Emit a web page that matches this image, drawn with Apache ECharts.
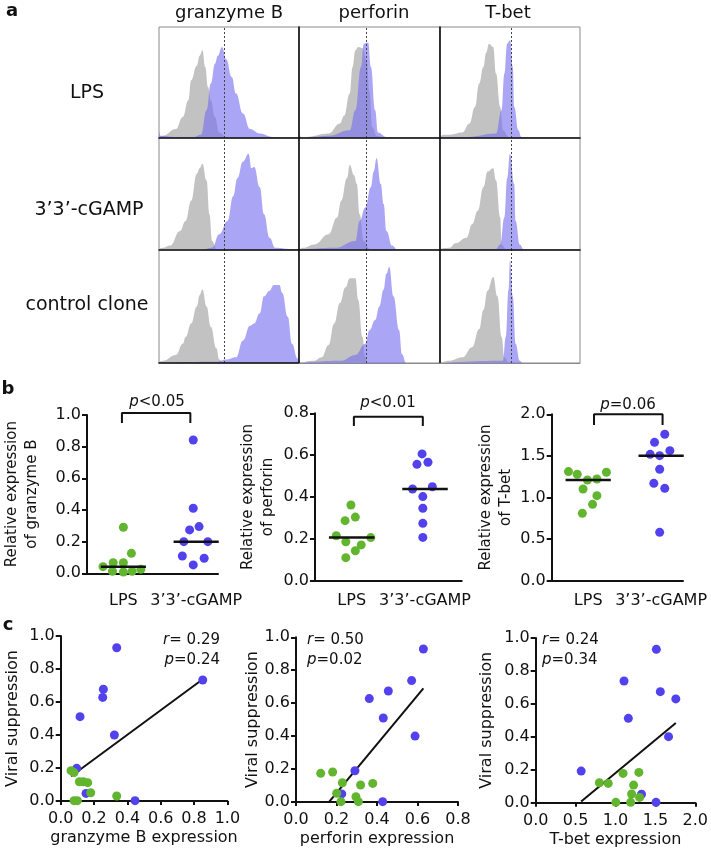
<!DOCTYPE html>
<html><head><meta charset="utf-8">
<script src="https://cdn.jsdelivr.net/npm/echarts@6/dist/echarts.min.js"></script>
<style>html,body{margin:0;padding:0;background:#fff}#c{width:711px;height:850px}</style>
</head><body><div id="c"></div>
<script>
// ---------------- DATA ----------------
// Panel a: flow histograms, [fluorescence %, count % of max]
const COL_TITLES = ['granzyme B', 'perforin', 'T-bet'];
const ROW_LABELS = ['LPS', '3’3’-cGAMP', 'control clone'];
const GATES = [46.4, 47.5, 50.7];

const GZ_LPS_ISO = [[0,1],[3,2],[12,8],[17,19],[21,34],[23,52],[27,65],[29,74],[31,79],[33,64],[35,46],[37,34],[40,19],[43,5],[48,1],[55,0],[100,0]];
const GZ_LPS_STN = [[0,7],[1,2],[10,1],[25,1],[30,3],[34,25],[37,49],[40,67],[42,74],[45,82],[48,71],[52,55],[55,40],[60,22],[65,8],[72,4],[81,1],[90,0],[100,0]];
const PF_LPS_ISO = [[0,0],[5,1],[21,4],[29,13],[32,20],[36,40],[38,64],[40,79],[42,82],[45,81],[48,70],[50,42],[52,10],[55,2],[60,0],[100,0]];
const PF_LPS_STN = [[0,5],[2,0],[10,1],[21,2],[36,7],[40,25],[44,64],[46,85],[49,86],[51,64],[54,25],[56,5],[62,1],[70,0],[100,0]];
const TB_LPS_ISO = [[0,0],[2,3],[7,3],[16,5],[21,13],[25,28],[28,49],[31,64],[33,77],[35,85],[38,82],[40,58],[43,28],[45,7],[49,1],[55,0],[100,0]];
const TB_LPS_STN = [[0,4],[1,1],[20,1],[40,4],[44,25],[46,58],[48,85],[50,88],[52,64],[53,28],[56,7],[58,1],[65,0],[100,0]];

const GZ_CG_ISO = [[0,1],[3,2],[8,4],[15,17],[19,26],[23,44],[27,68],[29,73],[31,77],[34,62],[36,32],[38,8],[41,1],[45,0],[100,0]];
const GZ_CG_STN = [[0,0],[30,0],[38,2],[43,14],[49,26],[53,48],[56,64],[60,79],[64,86],[66,73],[68,74],[72,56],[75,32],[79,11],[83,2],[93,1],[100,0]];
const PF_CG_ISO = [[0,0],[3,2],[11,5],[21,14],[27,29],[30,44],[34,64],[36,76],[39,67],[41,59],[43,32],[46,8],[50,1],[55,0],[100,0]];
const PF_CG_STN = [[0,0],[26,2],[40,8],[43,26],[47,38],[51,56],[53,70],[55,82],[58,59],[60,41],[62,17],[66,4],[70,0],[100,0]];
const TB_CG_ISO = [[0,1],[7,2],[11,6],[19,11],[23,23],[27,35],[31,56],[34,70],[38,73],[40,62],[43,29],[44,5],[47,1],[52,0],[100,0]];
const TB_CG_STN = [[0,0],[40,1],[43,5],[46,29],[48,64],[50,86],[53,59],[54,26],[57,5],[60,0],[100,0]];

const GZ_CC_ISO = [[0,1],[3,2],[12,7],[17,17],[19,23],[23,35],[27,50],[29,60],[31,65],[34,50],[37,32],[41,13],[43,3],[46,0],[100,0]];
const GZ_CC_STN = [[0,0],[41,1],[48,3],[55,5],[60,20],[65,33],[68,35],[72,44],[75,59],[79,64],[82,69],[86,69],[88,62],[92,41],[95,17],[99,4],[100,3]];
const PF_CC_ISO = [[0,0],[11,2],[16,5],[21,16],[25,35],[29,53],[33,67],[36,75],[40,75],[42,56],[45,23],[47,5],[49,0],[100,0]];
const PF_CC_STN = [[0,0],[30,2],[40,7],[47,17],[50,29],[54,38],[57,50],[60,65],[62,79],[64,85],[67,59],[71,29],[73,8],[76,0],[100,0]];
const TB_CC_ISO = [[0,0],[7,2],[16,5],[23,14],[28,30],[31,47],[34,64],[38,76],[41,59],[44,23],[46,5],[49,0],[100,0]];
const TB_CC_STN = [[0,0],[45,2],[47,23],[49,65],[50,91],[52,59],[54,17],[57,2],[59,0],[100,0]];

// Panel b: relative expression per clone
const CATS = ['LPS', '3’3’-cGAMP'];
const GZ_REL_LPS = [0.291, 0.126, 0.067, 0.067, 0.042, 0.025, 0.013, 0.013, 0.008];
const GZ_REL_CG  = [0.842, 0.411, 0.295, 0.274, 0.200, 0.200, 0.109, 0.095, 0.053];
const PF_REL_LPS = [0.362, 0.304, 0.287, 0.215, 0.206, 0.186, 0.171, 0.143, 0.110];
const PF_REL_CG  = [0.606, 0.566, 0.556, 0.449, 0.438, 0.402, 0.346, 0.274, 0.207];
const TB_REL_LPS = [1.311, 1.303, 1.279, 1.222, 1.210, 1.102, 1.022, 0.918, 0.810];
const TB_REL_CG  = [1.760, 1.663, 1.563, 1.519, 1.503, 1.339, 1.170, 1.110, 0.581];
const P_TEXT_B = ['<0.05', '<0.01', '=0.06'];

// Panel c: expression vs viral suppression
const C1_CG_X = [0.336,0.256,0.252,0.116,0.322,0.096,0.152,0.446,0.852];
const C1_CG_Y = [0.929,0.677,0.628,0.511,0.400,0.198,0.046,0.002,0.733];
const C1_LPS_X = [0.062,0.080,0.112,0.136,0.162,0.180,0.080,0.100,0.336];
const C1_LPS_Y = [0.184,0.172,0.117,0.117,0.111,0.050,0.002,0.002,0.030];
const C2_CG_X = [0.629,0.571,0.456,0.362,0.431,0.588,0.291,0.226,0.428];
const C2_CG_Y = [0.929,0.737,0.674,0.628,0.510,0.400,0.190,0.049,0.002];
const C2_LPS_X = [0.122,0.181,0.229,0.201,0.222,0.296,0.308,0.319,0.379];
const C2_LPS_Y = [0.174,0.182,0.117,0.053,0.002,0.032,0.002,0.103,0.113];
const C3_CG_X = [1.512,1.107,1.562,1.756,1.161,1.665,0.570,1.326,1.508];
const C3_CG_Y = [0.931,0.739,0.674,0.630,0.512,0.401,0.192,0.051,0.002];
const C3_LPS_X = [0.798,0.909,1.095,1.293,1.227,1.202,1.302,1.004,1.190];
const C3_LPS_Y = [0.121,0.117,0.178,0.184,0.107,0.053,0.032,0.002,0.002];
const R_TEXT = ['0.29', '0.50', '0.24'];
const P_TEXT_C = ['0.24', '0.02', '0.34'];

// ---------------- LAYOUT / STYLE ----------------
const FONT = 'DejaVu Sans';
const INK = '#111';
const GREEN = '#62b52e';
const BLUE = '#5142ee';
const ISO_FILL = '#c2c2c2';
const STN_FILL = 'rgba(120,110,240,0.62)';

// horizontal jitter of dots in the dot plots (layout only)
const JIT = {
  gzL: [0, 0.11, -0.14, 0, -0.28, 0.24, -0.15, 0.12, 0],
  gzC: [-0.04, -0.04, 0.04, -0.09, -0.17, 0.16, -0.19, 0.11, -0.04],
  pfL: [-0.01, 0.05, -0.09, -0.21, 0.26, -0.08, 0.13, 0.05, -0.08],
  pfC: [-0.04, 0.04, -0.11, 0.10, -0.17, -0.03, -0.03, -0.03, -0.03],
  tbL: [-0.27, 0.25, -0.15, 0.12, -0.01, -0.07, 0.12, 0.06, -0.08],
  tbC: [0.05, -0.09, 0.12, -0.15, -0.02, -0.02, -0.10, 0.05, -0.02]
};

const grids = [], xAxes = [], yAxes = [], series = [], graphics = [];

function txt(x, y, text, size, extra) {
  const st = Object.assign({
    text: text, fontSize: size, fontFamily: FONT, fill: INK,
    align: 'center', verticalAlign: 'middle', textAlign: 'center', textVerticalAlign: 'middle'
  }, extra || {});
  return { type: 'text', x: x, y: y, silent: true, z: 100, style: st };
}
function italicRich(size) {
  return { i: { fontStyle: 'italic', fontSize: size, fontFamily: FONT, fill: INK } };
}

// ---------- Panel a ----------
const HIST = [
  [[GZ_LPS_ISO, GZ_LPS_STN], [PF_LPS_ISO, PF_LPS_STN], [TB_LPS_ISO, TB_LPS_STN]],
  [[GZ_CG_ISO, GZ_CG_STN], [PF_CG_ISO, PF_CG_STN], [TB_CG_ISO, TB_CG_STN]],
  [[GZ_CC_ISO, GZ_CC_STN], [PF_CC_ISO, PF_CC_STN], [TB_CC_ISO, TB_CC_STN]]
];
const COL_X = [159, 299, 440], COL_W = [140, 141, 140];
const ROW_Y = [27, 138, 250], ROW_H = [111, 112, 113];
for (let r = 0; r < 3; r++) {
  for (let c = 0; c < 3; c++) {
    const gi = grids.length;
    grids.push({ left: COL_X[c], top: ROW_Y[r], width: COL_W[c], height: ROW_H[r],
      show: true, borderColor: '#8a8a8a', borderWidth: 1, backgroundColor: '#fff' });
    const bottomBlack = r < 2 || c === 0;
    xAxes.push({ gridIndex: gi, type: 'value', min: 0, max: 100, z: 10,
      axisLine: { show: true, onZero: false, lineStyle: { color: bottomBlack ? INK : '#8a8a8a', width: bottomBlack ? 1.6 : 1 } },
      axisTick: { show: false }, axisLabel: { show: false }, splitLine: { show: false } });
    yAxes.push({ gridIndex: gi, type: 'value', min: 0, max: 100, z: 10,
      axisLine: { show: c > 0, onZero: false, lineStyle: { color: INK, width: 1.6 } },
      axisTick: { show: false }, axisLabel: { show: false }, splitLine: { show: false } });
    const [iso, stn] = HIST[r][c];
    series.push({ type: 'line', xAxisIndex: gi, yAxisIndex: gi, data: iso, smooth: 0.45, smoothMonotone: 'x',
      showSymbol: false, silent: true, z: 2, lineStyle: { width: 0 }, areaStyle: { color: ISO_FILL, opacity: 1 } });
    series.push({ type: 'line', xAxisIndex: gi, yAxisIndex: gi, data: stn, smooth: 0.45, smoothMonotone: 'x',
      showSymbol: false, silent: true, z: 3, lineStyle: { width: 0 }, areaStyle: { color: STN_FILL, opacity: 1 },
      markLine: { silent: true, symbol: ['none', 'none'], label: { show: false },
        lineStyle: { type: [2, 2], color: '#444', width: 1 }, data: [{ xAxis: GATES[c] }] } });
  }
}
graphics.push(txt(12, 11, 'a', 18, { fontWeight: 'bold' }));
[229, 374, 508].forEach((x, i) => graphics.push(txt(x, 13, COL_TITLES[i], 18)));
[[87, 93], [89, 210], [87, 305]].forEach((p, i) => graphics.push(txt(p[0], p[1], ROW_LABELS[i], 19)));

// ---------- Panel b ----------
function median(a) { const s = a.slice().sort((p, q) => p - q); const n = s.length; return n % 2 ? s[(n - 1) / 2] : (s[n / 2 - 1] + s[n / 2]) / 2; }
const B_PANELS = [
  { lps: GZ_REL_LPS, cg: GZ_REL_CG, jl: JIT.gzL, jc: JIT.gzC, name: 'Relative expression\nof granzyme B',
    box: { left: 87, top: 415, width: 131, height: 158.3 }, xMin: 0.5, xMax: 2.3, yMax: 1.0, yInt: 0.2,
    nameGap: 45, catMargin: 20, br: { x: [0.98, 1.92], y: [0.95, 1.013] }, pPos: [157, 402] },
  { lps: PF_REL_LPS, cg: PF_REL_CG, jl: JIT.pfL, jc: JIT.pfC, name: 'Relative expression\nof perforin',
    box: { left: 315, top: 413.3, width: 146.7, height: 167.4 }, xMin: 0.5, xMax: 2.5, yMax: 0.8, yInt: 0.2,
    nameGap: 37, catMargin: 12, br: { x: [1.03, 1.97], y: [0.739, 0.784] }, pPos: [388, 403] },
  { lps: TB_REL_LPS, cg: TB_REL_CG, jl: JIT.tbL, jc: JIT.tbC, name: 'Relative expression\nof T-bet',
    box: { left: 551.7, top: 414.3, width: 131.3, height: 166.4 }, xMin: 0.5, xMax: 2.3, yMax: 2.0, yInt: 0.5,
    nameGap: 35, catMargin: 12, br: { x: [1.08, 2.02], y: [1.87, 2.0] }, pPos: [628, 405] }
];
B_PANELS.forEach((p, k) => {
  const gi = grids.length;
  grids.push(Object.assign({ show: false }, p.box));
  xAxes.push({ gridIndex: gi, type: 'value', min: p.xMin, max: p.xMax,
    axisLine: { show: true, onZero: false, lineStyle: { color: INK, width: 2 } },
    axisTick: { show: false }, splitLine: { show: false },
    axisLabel: { customValues: [1, 2], formatter: v => CATS[Math.round(v) - 1], fontFamily: FONT, fontSize: 16, color: INK, margin: p.catMargin } });
  yAxes.push({ gridIndex: gi, type: 'value', min: 0, max: p.yMax, interval: p.yInt,
    name: p.name, nameLocation: 'middle', nameRotate: 90, nameGap: p.nameGap,
    nameTextStyle: { fontFamily: FONT, fontSize: 15, color: INK, lineHeight: 20, align: 'center' },
    axisLine: { show: true, onZero: false, lineStyle: { color: INK, width: 2 } },
    axisTick: { show: true, length: 5, lineStyle: { color: INK, width: 2 } },
    axisLabel: { fontFamily: FONT, fontSize: 16, color: INK, margin: 6, formatter: v => v.toFixed(1) },
    splitLine: { show: false } });
  series.push({ type: 'scatter', xAxisIndex: gi, yAxisIndex: gi, symbolSize: 9, z: 5,
    itemStyle: { color: GREEN, opacity: 1 }, data: p.lps.map((v, i) => [1 + p.jl[i], v]) });
  series.push({ type: 'scatter', xAxisIndex: gi, yAxisIndex: gi, symbolSize: 9, z: 5,
    itemStyle: { color: BLUE, opacity: 1 }, data: p.cg.map((v, i) => [2 + p.jc[i], v]) });
  [[1, median(p.lps)], [2, median(p.cg)]].forEach(([cx, m]) => {
    series.push({ type: 'line', xAxisIndex: gi, yAxisIndex: gi, showSymbol: false, silent: true, z: 6,
      lineStyle: { color: INK, width: 2.5 }, data: [[cx - 0.31, m], [cx + 0.31, m]] });
  });
  series.push({ type: 'line', xAxisIndex: gi, yAxisIndex: gi, showSymbol: false, silent: true, z: 6, clip: false,
    lineStyle: { color: INK, width: 2 },
    data: [[p.br.x[0], p.br.y[0]], [p.br.x[0], p.br.y[1]], [p.br.x[1], p.br.y[1]], [p.br.x[1], p.br.y[0]]] });
  graphics.push(txt(p.pPos[0], p.pPos[1], '{i|p}' + P_TEXT_B[k], 15, { rich: italicRich(15) }));
});
graphics.push(txt(8, 389, 'b', 18, { fontWeight: 'bold' }));

// ---------- Panel c ----------
function ols(xs, ys) {
  const n = xs.length; const mx = xs.reduce((a, b) => a + b, 0) / n; const my = ys.reduce((a, b) => a + b, 0) / n;
  let sxy = 0, sxx = 0;
  for (let i = 0; i < n; i++) { sxy += (xs[i] - mx) * (ys[i] - my); sxx += (xs[i] - mx) * (xs[i] - mx); }
  const b = sxy / sxx; return { a: my - b * mx, b: b };
}
const C_PANELS = [
  { cx: C1_CG_X, cy: C1_CG_Y, lx: C1_LPS_X, ly: C1_LPS_Y, name: 'granzyme B expression',
    box: { left: 60.7, top: 636, width: 166.7, height: 165 }, xMax: 1.0, xInt: 0.2, yGap: 40,
    stat: { x: 220, align: 'right' } },
  { cx: C2_CG_X, cy: C2_CG_Y, lx: C2_LPS_X, ly: C2_LPS_Y, name: 'perforin expression',
    box: { left: 296, top: 637.3, width: 162, height: 164.7 }, xMax: 0.8, xInt: 0.2, yGap: 35,
    stat: { x: 307, align: 'left' } },
  { cx: C3_CG_X, cy: C3_CG_Y, lx: C3_LPS_X, ly: C3_LPS_Y, name: 'T-bet expression',
    box: { left: 535.7, top: 638, width: 161.3, height: 164.7 }, xMax: 2.0, xInt: 0.5, yGap: 41,
    stat: { x: 542, align: 'left' } }
];
C_PANELS.forEach((p, k) => {
  const gi = grids.length;
  grids.push(Object.assign({ show: false }, p.box));
  xAxes.push({ gridIndex: gi, type: 'value', min: 0, max: p.xMax, interval: p.xInt,
    name: p.name, nameLocation: 'middle', nameGap: 29,
    nameTextStyle: { fontFamily: FONT, fontSize: 16, color: INK },
    axisLine: { show: true, onZero: false, lineStyle: { color: INK, width: 2 } },
    axisTick: { show: true, length: 4, lineStyle: { color: INK, width: 2 } },
    axisLabel: { fontFamily: FONT, fontSize: 16, color: INK, margin: 10, formatter: v => v.toFixed(1) },
    splitLine: { show: false } });
  yAxes.push({ gridIndex: gi, type: 'value', min: 0, max: 1, interval: 0.2,
    name: 'Viral suppression', nameLocation: 'middle', nameRotate: 90, nameGap: p.yGap,
    nameTextStyle: { fontFamily: FONT, fontSize: 16, color: INK },
    axisLine: { show: true, onZero: false, lineStyle: { color: INK, width: 2 } },
    axisTick: { show: true, length: 5, lineStyle: { color: INK, width: 2 } },
    axisLabel: { fontFamily: FONT, fontSize: 16, color: INK, margin: 6, formatter: v => v.toFixed(1) },
    splitLine: { show: false } });
  const allX = p.cx.concat(p.lx), allY = p.cy.concat(p.ly);
  const fit = ols(allX, allY);
  const x0 = Math.min.apply(null, allX), x1 = Math.max.apply(null, allX);
  series.push({ type: 'line', xAxisIndex: gi, yAxisIndex: gi, showSymbol: false, silent: true, z: 3, clip: true,
    lineStyle: { color: INK, width: 2 }, data: [[x0, fit.a + fit.b * x0], [x1, fit.a + fit.b * x1]] });
  series.push({ type: 'scatter', xAxisIndex: gi, yAxisIndex: gi, symbolSize: 9, z: 5,
    itemStyle: { color: BLUE, opacity: 1 }, data: p.cx.map((v, i) => [v, p.cy[i]]) });
  series.push({ type: 'scatter', xAxisIndex: gi, yAxisIndex: gi, symbolSize: 9, z: 6,
    itemStyle: { color: GREEN, opacity: 1 }, data: p.lx.map((v, i) => [v, p.ly[i]]) });
  const al = { align: p.stat.align, textAlign: p.stat.align, rich: italicRich(15) };
  graphics.push(txt(p.stat.x, 640, '{i|r}= ' + R_TEXT[k], 15, al));
  graphics.push(txt(p.stat.x, 660, '{i|p}=' + P_TEXT_C[k], 15, al));
});
graphics.push(txt(8, 625, 'c', 18, { fontWeight: 'bold' }));

const chart = echarts.init(document.getElementById('c'), null, { renderer: 'canvas' });
chart.setOption({
  animation: false, backgroundColor: '#fff',
  grid: grids, xAxis: xAxes, yAxis: yAxes, series: series,
  graphic: { elements: graphics }
});
</script></body></html>
